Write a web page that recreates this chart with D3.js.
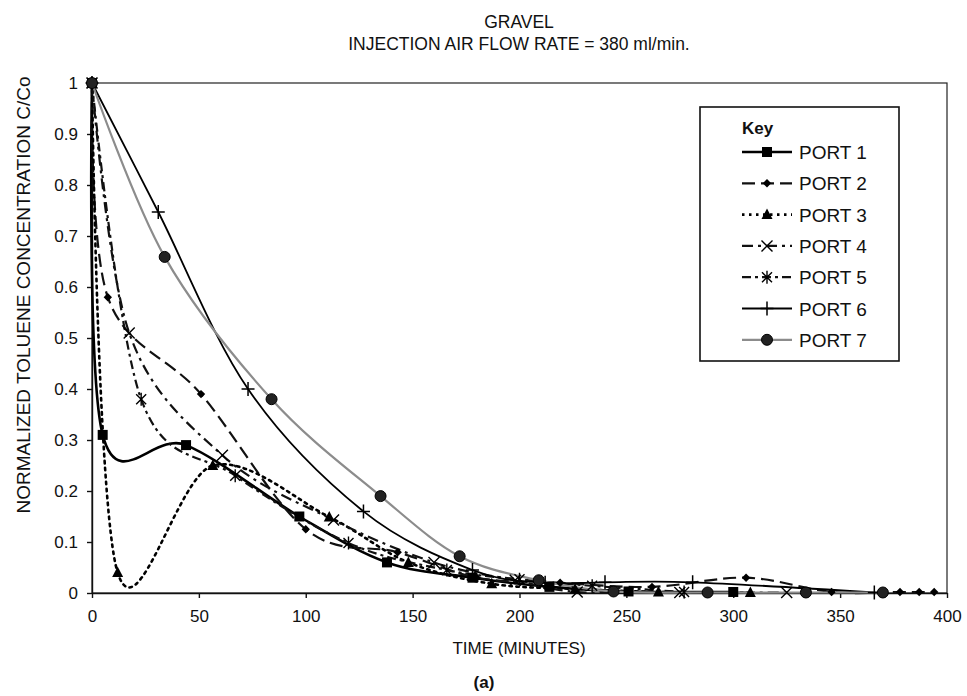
<!DOCTYPE html>
<html>
<head>
<meta charset="utf-8">
<script src="https://cdn.jsdelivr.net/npm/d3@7"></script>
<style>
  body { margin: 0; background: #fff; }
  text { font-family: 'Liberation Sans', Arial, sans-serif; fill: #111; }
</style>
</head>
<body>
<svg id="chart" width="967" height="696"></svg>
<script>
// values: [time in minutes, C/Co]
const portNames = ['PORT 1', 'PORT 2', 'PORT 3', 'PORT 4', 'PORT 5', 'PORT 6', 'PORT 7'];
const port1 = [[0, 1], [5, 0.31], [44, 0.29], [97, 0.15], [138, 0.06], [178, 0.03], [214, 0.012], [251, 0.003], [300, 0.002]];
const port2 = [[0, 1], [7.4, 0.58], [51, 0.39], [100, 0.125], [143, 0.08], [180, 0.03], [219, 0.02], [262, 0.012], [306, 0.03], [346, 0.002], [378, 0.002], [387, 0.002], [394, 0.002]];
const port3 = [[0, 1], [12, 0.04], [56.5, 0.25], [111, 0.149], [148, 0.06], [187, 0.018], [226, 0.008], [265, 0.002], [308, 0.001]];
const port4 = [[0, 1], [17.4, 0.51], [61, 0.27], [113, 0.143], [160, 0.06], [198, 0.025], [227, 0.002], [275, 0.001], [325, 0.001]];
const port5 = [[0, 1], [23, 0.38], [67, 0.23], [120, 0.098], [166, 0.045], [200, 0.027], [234, 0.014], [277, 0.002]];
const port6 = [[0, 1], [31, 0.747], [73, 0.40], [127, 0.16], [178, 0.045], [212, 0.02], [240, 0.021], [281, 0.021], [366, 0.001]];
const port7 = [[0, 1], [34, 0.659], [84, 0.38], [135, 0.19], [172, 0.072], [209, 0.025], [244, 0.003], [288, 0.001], [334, 0.001], [370, 0.001]];
const xTicks = [0, 50, 100, 150, 200, 250, 300, 350, 400];
const yTicks = [0, 0.1, 0.2, 0.3, 0.4, 0.5, 0.6, 0.7, 0.8, 0.9, 1];

const ports = [port1, port2, port3, port4, port5, port6, port7];
const styles = [
  { marker: 'square', color: '#000', width: 2.6, dash: null },
  { marker: 'diamond', color: '#111', width: 2.2, dash: '13,6' },
  { marker: 'triangle', color: '#000', width: 2.6, dash: '2.5,4.5' },
  { marker: 'x', color: '#111', width: 2.2, dash: '11,5,3,5' },
  { marker: 'asterisk', color: '#111', width: 2.2, dash: '9,4,3,4' },
  { marker: 'plus', color: '#000', width: 1.8, dash: null },
  { marker: 'circle', color: '#8c8c8c', width: 2.2, dash: null }
];

const svg = d3.select('#chart');
const x = d3.scaleLinear().domain([0, 400]).range([92, 947]);
const y = d3.scaleLinear().domain([0, 1]).range([593, 83]);

// plot frame (top and right edges)
svg.append('rect')
  .attr('x', x(0)).attr('y', y(1))
  .attr('width', x(400) - x(0)).attr('height', y(0) - y(1))
  .attr('fill', 'none').attr('stroke', '#222').attr('stroke-width', 1.2);

svg.append('g')
  .attr('class', 'x-axis')
  .attr('transform', `translate(0, ${y(0)})`)
  .call(d3.axisBottom(x).tickValues(xTicks).tickSize(5).tickSizeOuter(0).tickPadding(12).tickFormat(d => d));

svg.append('g')
  .attr('class', 'y-axis')
  .attr('transform', `translate(${x(0)}, 0)`)
  .call(d3.axisLeft(y).tickValues(yTicks).tickSize(5).tickSizeOuter(0).tickPadding(9).tickFormat(d => d3.format('')(+d.toFixed(1))));

svg.selectAll('.x-axis, .y-axis').selectAll('text')
  .style('font-family', "'Liberation Sans', Arial, sans-serif")
  .style('font-size', '17px')
  .attr('fill', '#111');
svg.selectAll('.x-axis path, .y-axis path, .x-axis line, .y-axis line')
  .attr('stroke', '#111').attr('stroke-width', 1.4);

const line = d3.line()
  .x(d => x(d[0]))
  .y(d => y(d[1]))
  .curve(d3.curveCardinal.tension(0));

svg.append('g').attr('class', 'lines')
  .selectAll('path')
  .data(ports)
  .enter()
  .append('path')
  .attr('d', line)
  .attr('fill', 'none')
  .attr('stroke', (d, i) => styles[i].color)
  .attr('stroke-width', (d, i) => styles[i].width)
  .attr('stroke-dasharray', (d, i) => styles[i].dash)
  .attr('stroke-linecap', (d, i) => i === 2 ? 'round' : 'butt');

function drawMarker(g, type) {
  if (type === 'square') {
    g.append('rect').attr('x', -5).attr('y', -5).attr('width', 10).attr('height', 10).attr('fill', '#000');
  } else if (type === 'diamond') {
    g.append('path').attr('d', 'M0,-4.2L4.2,0L0,4.2L-4.2,0Z').attr('fill', '#000');
  } else if (type === 'triangle') {
    g.append('path').attr('d', 'M0,-6L5.5,4.5L-5.5,4.5Z').attr('fill', '#000');
  } else if (type === 'x') {
    g.append('path').attr('d', 'M-5.5,-5.5L5.5,5.5M-5.5,5.5L5.5,-5.5').attr('stroke', '#000').attr('stroke-width', 1.4);
  } else if (type === 'asterisk') {
    g.append('path').attr('d', 'M-5,-5L5,5M-5,5L5,-5M0,-6.5L0,6.5').attr('stroke', '#000').attr('stroke-width', 1.4);
  } else if (type === 'plus') {
    g.append('path').attr('d', 'M-6.5,0L6.5,0M0,-7L0,7').attr('stroke', '#000').attr('stroke-width', 1.5);
  } else if (type === 'circle') {
    g.append('circle').attr('r', 5.5).attr('fill', '#222').attr('stroke', '#000').attr('stroke-width', 1);
  }
}

ports.forEach((pts, i) => {
  svg.append('g').attr('class', 'markers')
    .selectAll('g')
    .data(pts)
    .enter()
    .append('g')
    .attr('transform', d => `translate(${x(d[0])}, ${y(d[1])})`)
    .each(function () { drawMarker(d3.select(this), styles[i].marker); });
});

// legend
const legend = svg.append('g').attr('class', 'legend');
legend.append('rect')
  .attr('x', 700).attr('y', 107).attr('width', 199).attr('height', 254)
  .attr('fill', '#fff').attr('stroke', '#111').attr('stroke-width', 1.6);
legend.append('text')
  .attr('x', 742).attr('y', 134)
  .style('font-size', '17px').style('font-weight', 'bold')
  .text('Key');

const rows = legend.selectAll('g.row')
  .data(portNames)
  .enter()
  .append('g')
  .attr('class', 'row')
  .attr('transform', (d, i) => `translate(0, ${155 + i * 31.3})`);
rows.append('line')
  .attr('x1', 742).attr('x2', 792).attr('y1', -3).attr('y2', -3)
  .attr('stroke', (d, i) => styles[i].color)
  .attr('stroke-width', (d, i) => styles[i].width)
  .attr('stroke-dasharray', (d, i) => styles[i].dash);
rows.append('g')
  .attr('transform', 'translate(767, -3)')
  .each(function (d, i) { drawMarker(d3.select(this), styles[i].marker); });
rows.append('text')
  .attr('x', 799).attr('y', 4)
  .style('font-size', '19px')
  .text(d => d);

// titles
svg.append('text').attr('x', 519).attr('y', 28).attr('text-anchor', 'middle')
  .style('font-size', '17.5px').text('GRAVEL');
svg.append('text').attr('x', 519).attr('y', 50).attr('text-anchor', 'middle')
  .style('font-size', '17.5px').text('INJECTION AIR FLOW RATE = 380 ml/min.');
svg.append('text').attr('x', 519).attr('y', 654).attr('text-anchor', 'middle')
  .style('font-size', '17px').text('TIME (MINUTES)');
svg.append('text').attr('x', 484).attr('y', 688).attr('text-anchor', 'middle')
  .style('font-size', '17px').style('font-weight', 'bold').text('(a)');
svg.append('text')
  .attr('transform', 'translate(30, 295) rotate(-90)')
  .attr('text-anchor', 'middle')
  .style('font-size', '19px')
  .text('NORMALIZED TOLUENE CONCENTRATION C/Co');
</script>
</body>
</html>
